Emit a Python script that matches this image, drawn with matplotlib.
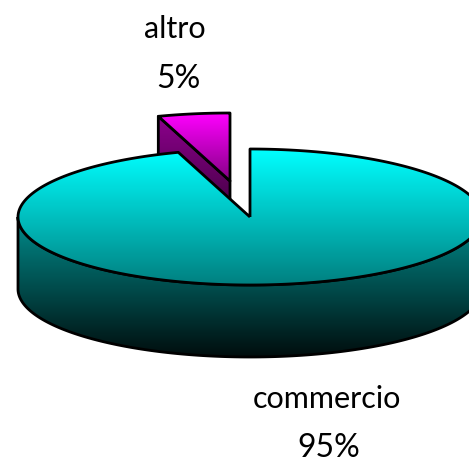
import numpy as np
import matplotlib
matplotlib.use("Agg")
import matplotlib.pyplot as plt
from matplotlib.patches import Polygon
from matplotlib.colors import LinearSegmentedColormap

categories = ["commercio", "altro"]
shares = [95, 5]

W, H = 469, 464
CX, CY, RX, RY, DEPTH = 250, 218, 232, 68, 72
EXPLODE = (-20, -36)
LW = 2.0

fig = plt.figure(figsize=(W / 100, H / 100), dpi=100)
ax = fig.add_axes([0, 0, 1, 1])
ax.set_xlim(0, W)
ax.set_ylim(H, 0)
ax.axis("off")


def arc(t0, t1, cx=CX, cy=CY, n=200):
    t = np.radians(np.linspace(t0, t1, n))
    return np.column_stack([cx + RX * np.cos(t), cy - RY * np.sin(t)])


def shape(pts, y0, y1, c0, c1, z):
    cmap = LinearSegmentedColormap.from_list("g", [c0, c1])
    img = ax.imshow(np.linspace(0, 1, 256)[:, None], extent=(0, W, y1, y0),
                    cmap=cmap, aspect="auto", zorder=z, interpolation="bilinear")
    clip = Polygon(pts, closed=True, transform=ax.transData, fc="none", ec="none")
    ax.add_patch(clip)
    img.set_clip_path(clip)
    outline = Polygon(pts, closed=True, fc="none", ec="black", lw=LW,
                      joinstyle="round", zorder=z + 0.5)
    ax.add_patch(outline)


# angles: start at 12 o'clock, clockwise
sweep_big = 360 * shares[0] / sum(shares)
a0, a1 = 90, 90 - sweep_big          # big slice
b0, b1 = a1, a1 - (360 - sweep_big)  # small slice

# exploded small slice
sx, sy = CX + EXPLODE[0], CY + EXPLODE[1]
rim = arc(b0, b1, sx, sy, 40)
apex = np.array([[sx, sy]])
wall = np.vstack([apex, rim[:1], rim[:1] + [0, DEPTH], apex + [0, DEPTH]])
shape(wall, sy - RY, sy + DEPTH, (0.56, 0, 0.56), (0.14, 0, 0.14), 2)
shape(np.vstack([apex, rim]), sy - RY, sy, (1, 0, 1), (0.52, 0, 0.52), 3)

# big slice: side then top
front = arc(180, 360, n=300)
side = np.vstack([front, front[::-1] + [0, DEPTH]])
shape(side, CY, CY + RY + DEPTH, (0, 0.55, 0.55), (0, 0.05, 0.05), 4)
top = np.vstack([[[CX, CY]], arc(a0, a1, n=400)])
shape(top, CY - RY, CY + RY, (0, 1, 1), (0, 0.50, 0.50), 5)

font = ["Lato", "DejaVu Sans"]
label_pos = {"commercio": ((327, 399), (329, 448)), "altro": ((175, 29), (178, 79))}
for name, val in zip(categories, shares):
    p1, p2 = label_pos[name]
    ax.text(*p1, name, ha="center", va="center", fontsize=22, family=font, zorder=8)
    ax.text(*p2, f"{val}%", ha="center", va="center", fontsize=23, family=font, zorder=8)

ax.set_xlim(0, W)
ax.set_ylim(H, 0)
fig.savefig("out.png", dpi=100, facecolor="white")
